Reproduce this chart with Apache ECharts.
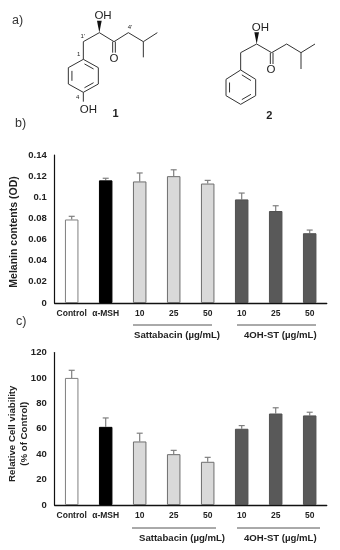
<!DOCTYPE html>
<html><head><meta charset="utf-8">
<style>html,body{margin:0;padding:0;background:#fff}#c{width:340px;height:550px}</style>
<script src="https://cdn.jsdelivr.net/npm/echarts@6/dist/echarts.min.js"></script>
</head><body><div id="c"></div>
<script>
const categories = ['Control','α-MSH','10','25','50','10','25','50'];
const melanin = [0.079,0.116,0.115,0.12,0.113,0.098,0.087,0.066];
const melaninTop = [0.082,0.118,0.123,0.126,0.116,0.104,0.092,0.069];
const viability = [100,61.5,50,40,34,60,72,70.5];
const viabilityTop = [106,68.5,56.5,43,37.5,62.5,76.5,73];
const fills = ['#ffffff','#000000','#d9d9d9','#d9d9d9','#d9d9d9','#595959','#595959','#595959'];
const borders = ['#7f7f7f','#000000','#6e6e6e','#6e6e6e','#6e6e6e','#505050','#505050','#505050'];

const FONT = '"Liberation Sans", Arial, sans-serif';
const chart = echarts.init(document.getElementById('c'), null, {renderer:'canvas'});

function barData(vals){
  return vals.map((v,i)=>({value:v,itemStyle:{color:fills[i],borderColor:borders[i],borderWidth:1}}));
}
function errSeries(idx,vals,tops){
  return {
    type:'custom',xAxisIndex:idx,yAxisIndex:idx,z:1,silent:true,
    data:vals.map((v,i)=>[i,v,tops[i]]),
    renderItem(params,api){
      const a=api.coord([api.value(0),api.value(1)]);
      const b=api.coord([api.value(0),api.value(2)]);
      const st={stroke:'#7f7f7f',lineWidth:1.2};
      return {type:'group',children:[
        {type:'line',shape:{x1:a[0],y1:a[1],x2:b[0],y2:b[1]},style:st},
        {type:'line',shape:{x1:a[0]-3,y1:b[1],x2:a[0]+3,y2:b[1]},style:st}
      ]};
    }
  };
}
function xAxis(i){
  return {type:'category',gridIndex:i,data:categories,
    axisLine:{lineStyle:{color:'#111',width:1.4}},axisTick:{show:false},
    axisLabel:{interval:0,color:'#222',fontFamily:FONT,fontWeight:'bold',fontSize:8.5,margin:6}};
}
function yAxis(i,max,interval,name,gap){
  return {type:'value',gridIndex:i,min:0,max,interval,name,nameLocation:'middle',nameGap:gap,nameMoveOverlap:false,
    nameTextStyle:{color:'#222',fontFamily:FONT,fontWeight:'bold',fontSize:i?9.7:10.5,lineHeight:12,padding:[0,i?10:6,0,0]},
    splitLine:{show:false},axisTick:{show:false},
    axisLine:{show:true,lineStyle:{color:'#111',width:1.2}},
    axisLabel:{color:'#222',fontFamily:FONT,fontWeight:'bold',fontSize:9.5,margin:8}};
}

/* chemical structure drawings (decoration, in 3x zoom units) */
const S=3;
function poly(points){
  return {type:'polyline',shape:{points:points.map(p=>[p[0]/S,p[1]/S])},style:{stroke:'#333',lineWidth:1,fill:null}};
}
function wedge(x,y1,y2){
  return {type:'polygon',shape:{points:[[x/S,y1/S],[(x-7)/S,y2/S],[(x+7)/S,y2/S]]},style:{fill:'#111'}};
}
function txt(x,y,t,size,w,align){
  return {type:'text',x:x/S,y:y/S,style:{text:t,fill:'#222',font:(w||'normal')+' '+size+'px '+FONT,textAlign:align||'center',textVerticalAlign:'middle'}};
}
function ring(p){
  const cx=p.reduce((s,q)=>s+q[0],0)/6, cy=p.reduce((s,q)=>s+q[1],0)/6;
  const inner=p.map(q=>[cx+(q[0]-cx)*0.76,cy+(q[1]-cy)*0.76]);
  const out=[poly(p.concat([p[0]]))];
  [[0,1],[2,3],[4,5]].forEach(e=>{
    const a=inner[e[0]],b=inner[e[1]];
    out.push(poly([[a[0]+(b[0]-a[0])*0.1,a[1]+(b[1]-a[1])*0.1],[a[0]+(b[0]-a[0])*0.9,a[1]+(b[1]-a[1])*0.9]]));
  });
  return out;
}
const structures=[
  poly([[250,178],[250,125],[298,98],[342,125],[385,98],[430,125],[472,98]]),
  poly([[430,125],[430,172]]),
  poly([[338,125],[338,158]]),poly([[346,125],[346,158]]),
  wedge(298,98,62),
  poly([[250,277],[250,305]]),
  ...ring([[250,178],[295,203],[295,252],[250,277],[205,252],[205,203]]),
  txt(309,47,'OH',11.5),txt(342,175,'O',11.5),txt(265,329,'OH',11.5),
  txt(248,110,"1'",6),txt(390,82,"4'",6),txt(236,163,'1',6),txt(233,291,'4',6),
  txt(347,342,'1',11,'bold'),
  poly([[722,210],[722,158],[770,132],[815,158],[860,132],[903,158],[945,132]]),
  poly([[903,158],[903,207]]),
  poly([[811,158],[811,192]]),poly([[819,158],[819,192]]),
  wedge(770,132,97),
  ...ring([[722,210],[767,238],[767,287],[722,313],[678,287],[678,238]]),
  txt(781,82,'OH',11.5),txt(813,208,'O',11.5),
  txt(808,349,'2',11,'bold')
];
function rule(x1,x2,y){
  return {type:'line',shape:{x1,y1:y,x2,y2:y},style:{stroke:'#555',lineWidth:1}};
}
function label(x,y,t){
  return {type:'text',x,y,style:{text:t,fill:'#222',font:'bold 9.6px '+FONT,textAlign:'left',textVerticalAlign:'middle'}};
}
function panel(x,y,t){
  return {type:'text',x,y,style:{text:t,fill:'#333',font:'normal 12.5px '+FONT,textAlign:'left',textVerticalAlign:'middle'}};
}

chart.setOption({
  animation:false,
  backgroundColor:'#fff',
  grid:[
    {left:54.7,width:272,top:155,height:148,outerBoundsMode:'none'},
    {left:54.7,width:272,top:352.5,height:152.5,outerBoundsMode:'none'}
  ],
  xAxis:[xAxis(0),xAxis(1)],
  yAxis:[
    yAxis(0,0.14,0.02,'Melanin contents (OD)',35),
    yAxis(1,120,20,'Relative Cell viability\n(% of Control)',24.7)
  ],
  series:[
    errSeries(0,melanin,melaninTop),
    {type:'bar',xAxisIndex:0,yAxisIndex:0,barWidth:13.5,z:2,data:barData(melanin)},
    errSeries(1,viability,viabilityTop),
    {type:'bar',xAxisIndex:1,yAxisIndex:1,barWidth:13.5,z:2,data:barData(viability)}
  ],
  graphic:{elements:[
    ...structures,
    panel(12,21,'a)'),panel(15,124,'b)'),panel(16,322,'c)'),
    rule(133,212,325),rule(237,316,325),
    label(134,335,'Sattabacin (µg/mL)'),label(244,335,'4OH-ST (µg/mL)'),
    rule(132,216,528),rule(237,320,528),
    label(139,538,'Sattabacin (µg/mL)'),label(244,538,'4OH-ST (µg/mL)')
  ]}
});
</script></body></html>
